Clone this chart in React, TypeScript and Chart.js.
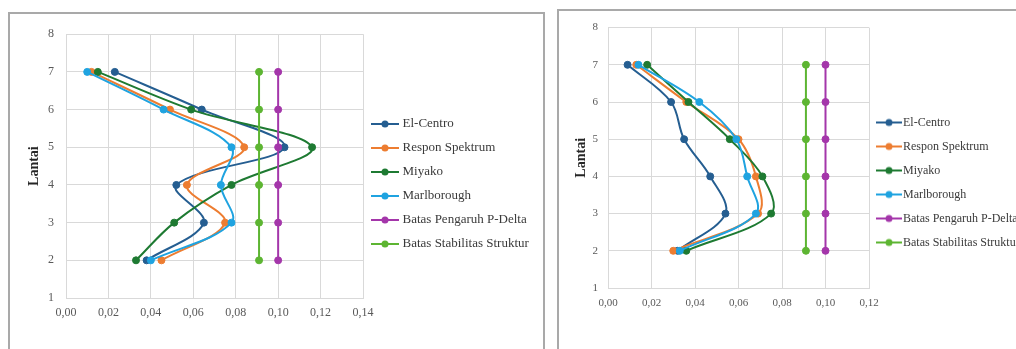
import React, { useEffect, useRef } from "react";
import { Chart, registerables } from "chart.js";

Chart.register(...registerables);

const floors = [2, 3, 4, 5, 6, 7];
const seriesNames = [
  "El-Centro",
  "Respon Spektrum",
  "Miyako",
  "Marlborough",
  "Batas Pengaruh P-Delta",
  "Batas Stabilitas Struktur",
];
const seriesColors = ["#255E91", "#ED7D31", "#1E7A32", "#1FA3E0", "#A436AA", "#5DB532"];

// Left chart values (per floor 2..7)
const leftElCentro = [0.038, 0.065, 0.052, 0.103, 0.064, 0.023];
const leftRespon = [0.045, 0.075, 0.057, 0.084, 0.049, 0.012];
const leftMiyako = [0.033, 0.051, 0.078, 0.116, 0.059, 0.015];
const leftMarlborough = [0.04, 0.078, 0.073, 0.078, 0.046, 0.01];
const leftPDelta = [0.1, 0.1, 0.1, 0.1, 0.1, 0.1];
const leftStabilitas = [0.091, 0.091, 0.091, 0.091, 0.091, 0.091];

// Right chart values (per floor 2..7)
const rightElCentro = [0.032, 0.054, 0.047, 0.035, 0.029, 0.009];
const rightRespon = [0.03, 0.069, 0.068, 0.06, 0.036, 0.013];
const rightMiyako = [0.036, 0.075, 0.071, 0.056, 0.037, 0.018];
const rightMarlborough = [0.033, 0.068, 0.064, 0.059, 0.042, 0.014];
const rightPDelta = [0.1, 0.1, 0.1, 0.1, 0.1, 0.1];
const rightStabilitas = [0.091, 0.091, 0.091, 0.091, 0.091, 0.091];

const leftXTicks = [0, 0.02, 0.04, 0.06, 0.08, 0.1, 0.12, 0.14];
const rightXTicks = [0, 0.02, 0.04, 0.06, 0.08, 0.1, 0.12];
const yTicks = [1, 2, 3, 4, 5, 6, 7, 8];
const yTitle = "Lantai";

const FONT = "'Liberation Serif', 'Times New Roman', Times, serif";
const PAD_LEFT = -250;

type Geo = {
  x: number; y: number; w: number; h: number;
  padTop: number; padBottom: number;
  areaLeft: number; areaRight: number; xAxisH: number; titleCenter: number;
  tickFont: number; yTickPad: number; xTickPad: number;
  legendFont: number; legendPad: number; iconW: number; boxW: number;
};

const leftGeo: Geo = {
  x: 10, y: 15, w: 532, h: 334,
  padTop: 9, padBottom: 5,
  areaLeft: 56, areaRight: 353, xAxisH: 46, titleCenter: 24,
  tickFont: 12, yTickPad: 12, xTickPad: 8,
  legendFont: 13, legendPad: 11, iconW: 28, boxW: 22,
};

const rightGeo: Geo = {
  x: 560, y: 11, w: 540, h: 338,
  padTop: 10, padBottom: 5,
  areaLeft: 48, areaRight: 309, xAxisH: 56, titleCenter: 21,
  tickFont: 11, yTickPad: 10, xTickPad: 9,
  legendFont: 12, legendPad: 12, iconW: 26, boxW: 16,
};

function makeIcon(color: string, w: number): HTMLCanvasElement {
  const c = document.createElement("canvas");
  c.width = w;
  c.height = 10;
  const ctx = c.getContext("2d")!;
  ctx.strokeStyle = color;
  ctx.lineWidth = 2;
  ctx.beginPath();
  ctx.moveTo(0, 5);
  ctx.lineTo(w, 5);
  ctx.stroke();
  ctx.fillStyle = color;
  ctx.beginPath();
  ctx.arc(w / 2, 5, 3.5, 0, Math.PI * 2);
  ctx.fill();
  return c;
}

function legendWidth(geo: Geo): number {
  const c = document.createElement("canvas");
  const ctx = c.getContext("2d")!;
  ctx.font = `normal ${geo.legendFont}px ${FONT}`;
  let m = 0;
  seriesNames.forEach((n) => {
    m = Math.max(m, ctx.measureText(n).width);
  });
  return geo.legendPad + geo.boxW + geo.legendFont / 2 + m;
}

function ChartPanel({ series, xTicks, geo }: { series: number[][]; xTicks: number[]; geo: Geo }) {
  const ref = useRef<HTMLCanvasElement>(null);
  useEffect(() => {
    const icons = seriesColors.map((c) => makeIcon(c, geo.iconW));
    const lw = legendWidth(geo);
    const padRight = geo.w - geo.areaRight - lw - 10;
    const yAxisW = geo.areaLeft - PAD_LEFT;
    const titlePad = geo.titleCenter - (14 * 1.2) / 2 - PAD_LEFT;
    const datasets = series.map((vals, i) => ({
      label: seriesNames[i],
      data: vals.map((v, j) => ({ x: v, y: floors[j] })),
      showLine: true,
      borderColor: seriesColors[i],
      backgroundColor: seriesColors[i],
      borderWidth: 2,
      pointRadius: 3.5,
      pointHoverRadius: 3.5,
      pointBorderWidth: 1,
      tension: i < 4 ? 0.35 : 0,
      order: 6 - i,
    }));
    const chart = new Chart(ref.current!, {
      type: "scatter",
      data: { datasets },
      options: {
        animation: false,
        responsive: false,
        events: [],
        layout: {
          padding: { left: PAD_LEFT, top: geo.padTop, right: padRight, bottom: geo.padBottom },
        },
        plugins: {
          tooltip: { enabled: false },
          legend: {
            position: "right",
            align: "center",
            labels: {
              usePointStyle: true,
              pointStyleWidth: geo.boxW,
              padding: geo.legendPad,
              color: "#3a3a3a",
              font: { family: FONT, size: geo.legendFont },
              sort: (a: any, b: any) => a.datasetIndex - b.datasetIndex,
              generateLabels: (ch: any) =>
                Chart.defaults.plugins.legend.labels
                  .generateLabels(ch)
                  .map((it: any) => ({ ...it, pointStyle: icons[it.datasetIndex] })),
            },
          },
        },
        scales: {
          x: {
            type: "linear",
            min: xTicks[0],
            max: xTicks[xTicks.length - 1],
            afterBuildTicks: (s: any) => {
              s.ticks = xTicks.map((v) => ({ value: v }));
            },
            afterFit: (s: any) => {
              s.height = geo.xAxisH;
            },
            ticks: {
              color: "#595959",
              padding: geo.xTickPad,
              font: { family: FONT, size: geo.tickFont },
              callback: (v: any) => Number(v).toFixed(2).replace(".", ","),
            },
            grid: { color: "#d9d9d9", lineWidth: 1, drawTicks: false },
            border: { color: "#d9d9d9" },
          },
          y: {
            type: "linear",
            min: yTicks[0],
            max: yTicks[yTicks.length - 1],
            afterBuildTicks: (s: any) => {
              s.ticks = yTicks.map((v) => ({ value: v }));
            },
            afterFit: (s: any) => {
              s.width = yAxisW;
            },
            ticks: {
              color: "#595959",
              padding: geo.yTickPad,
              font: { family: FONT, size: geo.tickFont },
              callback: (v: any) => String(v),
            },
            grid: { color: "#d9d9d9", lineWidth: 1, drawTicks: false },
            border: { color: "#d9d9d9" },
            title: {
              display: true,
              text: yTitle,
              color: "#262626",
              font: { family: FONT, size: 14, weight: "bold" },
              padding: { top: titlePad, bottom: 0 },
            },
          },
        },
      },
    } as any);
    return () => chart.destroy();
  }, []);
  return (
    <canvas
      ref={ref}
      width={geo.w}
      height={geo.h}
      style={{ position: "absolute", left: geo.x, top: geo.y, width: geo.w, height: geo.h }}
    />
  );
}

export default function App() {
  const leftSeries = [leftElCentro, leftRespon, leftMiyako, leftMarlborough, leftPDelta, leftStabilitas];
  const rightSeries = [rightElCentro, rightRespon, rightMiyako, rightMarlborough, rightPDelta, rightStabilitas];
  return (
    <div
      style={{
        position: "absolute",
        left: 0,
        top: 0,
        width: 1016,
        height: 349,
        overflow: "hidden",
        background: "#ffffff",
      }}
    >
      <div
        style={{
          position: "absolute",
          left: 8,
          top: 12,
          width: 537,
          height: 400,
          border: "2px solid #a9a9a9",
          boxSizing: "border-box",
        }}
      />
      <div
        style={{
          position: "absolute",
          left: 557,
          top: 9,
          width: 600,
          height: 400,
          border: "2px solid #a9a9a9",
          boxSizing: "border-box",
        }}
      />
      <ChartPanel series={leftSeries} xTicks={leftXTicks} geo={leftGeo} />
      <ChartPanel series={rightSeries} xTicks={rightXTicks} geo={rightGeo} />
    </div>
  );
}
